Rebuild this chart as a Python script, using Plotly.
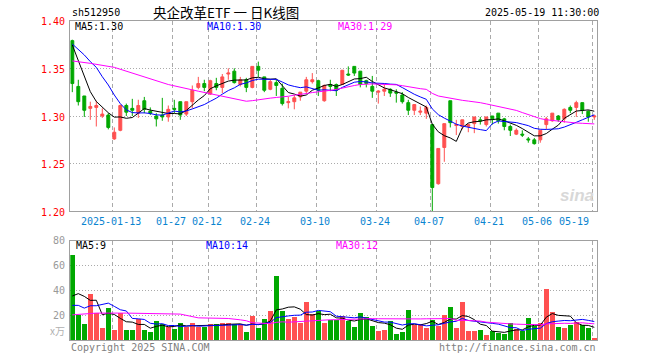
import plotly.graph_objects as go
import pandas as pd

# ---------------- data ----------------
dates = ["2025-01-02","2025-01-03","2025-01-06","2025-01-07","2025-01-08","2025-01-09","2025-01-10",
         "2025-01-13","2025-01-14","2025-01-15","2025-01-16","2025-01-17","2025-01-20","2025-01-21",
         "2025-01-22","2025-01-23","2025-01-24","2025-01-27","2025-02-05","2025-02-06","2025-02-07",
         "2025-02-10","2025-02-11","2025-02-12","2025-02-13","2025-02-14","2025-02-17","2025-02-18",
         "2025-02-19","2025-02-20","2025-02-21","2025-02-24","2025-02-25","2025-02-26","2025-02-27",
         "2025-02-28","2025-03-03","2025-03-04","2025-03-05","2025-03-06","2025-03-07","2025-03-10",
         "2025-03-11","2025-03-12","2025-03-13","2025-03-14","2025-03-17","2025-03-18","2025-03-19",
         "2025-03-20","2025-03-21","2025-03-24","2025-03-25","2025-03-26","2025-03-27","2025-03-28",
         "2025-03-31","2025-04-01","2025-04-02","2025-04-03","2025-04-07","2025-04-08","2025-04-09",
         "2025-04-10","2025-04-11","2025-04-14","2025-04-15","2025-04-16","2025-04-17","2025-04-18",
         "2025-04-21","2025-04-22","2025-04-23","2025-04-24","2025-04-25","2025-04-28","2025-04-29",
         "2025-04-30","2025-05-06","2025-05-07","2025-05-08","2025-05-09","2025-05-12","2025-05-13",
         "2025-05-14","2025-05-15","2025-05-16","2025-05-19"]

opens = [1.379,1.331,1.321,1.308,1.309,1.300,1.301,1.276,1.285,1.311,1.308,1.303,1.316,1.305,1.300,
         1.301,1.299,1.308,1.315,1.302,1.315,1.330,1.334,1.323,1.334,1.330,1.344,1.347,1.333,1.338,
         1.330,1.352,1.341,1.328,1.335,1.329,1.314,1.315,1.320,1.326,1.336,1.337,1.316,1.333,1.333,
         1.333,1.344,1.352,1.347,1.337,1.331,1.325,1.326,1.328,1.325,1.322,1.314,1.306,1.304,1.303,
         1.291,1.229,1.267,1.316,1.290,1.289,1.289,1.292,1.296,1.291,1.300,1.303,1.297,1.289,1.281,
         1.281,1.276,1.275,1.275,1.291,1.295,1.300,1.297,1.309,1.309,1.314,1.305,1.299]
highs = [1.380,1.338,1.321,1.315,1.316,1.308,1.303,1.288,1.312,1.313,1.318,1.317,1.320,1.309,1.303,
         1.319,1.311,1.317,1.315,1.315,1.332,1.341,1.338,1.338,1.340,1.344,1.350,1.350,1.341,1.340,
         1.352,1.357,1.341,1.338,1.338,1.334,1.320,1.322,1.325,1.341,1.345,1.338,1.333,1.338,1.334,
         1.348,1.352,1.352,1.347,1.338,1.342,1.327,1.333,1.329,1.328,1.325,1.317,1.312,1.310,1.311,
         1.291,1.266,1.292,1.316,1.296,1.296,1.292,1.299,1.299,1.299,1.300,1.303,1.298,1.291,1.287,
         1.285,1.278,1.277,1.285,1.299,1.303,1.301,1.308,1.311,1.316,1.314,1.306,1.301]
lows = [1.325,1.311,1.299,1.296,1.289,1.298,1.286,1.275,1.284,1.300,1.300,1.298,1.303,1.301,1.289,
        1.295,1.294,1.303,1.296,1.300,1.308,1.328,1.326,1.322,1.327,1.324,1.338,1.334,1.331,1.325,
        1.329,1.341,1.325,1.327,1.321,1.311,1.308,1.307,1.316,1.323,1.334,1.321,1.315,1.326,1.321,
        1.333,1.342,1.342,1.330,1.330,1.319,1.313,1.321,1.320,1.314,1.313,1.301,1.301,1.301,1.297,
        1.200,1.228,1.252,1.288,1.280,1.286,1.283,1.282,1.291,1.289,1.291,1.292,1.285,1.279,1.280,
        1.278,1.272,1.270,1.272,1.286,1.294,1.294,1.293,1.303,1.299,1.302,1.294,1.296]
closes = [1.334,1.315,1.306,1.310,1.311,1.302,1.288,1.283,1.311,1.304,1.306,1.311,1.307,1.303,1.297,
          1.299,1.307,1.307,1.301,1.315,1.327,1.334,1.330,1.337,1.330,1.341,1.345,1.335,1.338,1.330,
          1.352,1.348,1.327,1.336,1.332,1.313,1.315,1.319,1.325,1.338,1.338,1.327,1.332,1.331,1.327,
          1.348,1.343,1.345,1.333,1.334,1.326,1.326,1.328,1.324,1.324,1.315,1.306,1.312,1.305,1.309,
          1.225,1.266,1.292,1.293,1.291,1.296,1.291,1.299,1.295,1.299,1.297,1.295,1.289,1.285,1.285,
          1.280,1.275,1.271,1.285,1.297,1.303,1.296,1.307,1.306,1.314,1.306,1.299,1.300]
volumes = [68.0,20.2,13.2,37.4,21.8,9.9,26.1,8.3,21.8,8.3,
           8.3,16.9,8.3,6.7,15.6,12.9,10.8,9.1,13.7,11.0,
           13.7,11.0,11.0,13.0,13.0,13.5,13.5,13.0,13.0,7.0,
           19.5,10.0,17.0,23.5,51.9,23.1,17.2,18.3,14.2,30.4,
           21.0,23.1,14.2,15.9,15.9,19.6,15.1,10.8,22.0,18.8,
           11.6,7.8,8.6,15.6,5.1,7.0,24.5,12.4,12.9,10.2,
           16.4,11.6,20.4,26.9,9.9,30.4,7.8,7.8,8.6,4.6,
           7.8,5.6,5.1,14.2,8.9,7.8,18.0,11.3,14.2,41.4,
           22.3,10.8,9.9,12.4,14.8,12.4,10.2,2.2]

# moving-average values read from the chart where earlier history is not shown
ma5_lead_idx = [0, 1, 2, 3]
ma5_lead = [1.3744, 1.3587, 1.3412, 1.3255]
ma10_lead_idx = [0, 1, 2, 3, 4, 5, 6, 7, 8]
ma10_lead = [1.3755, 1.370, 1.364, 1.357, 1.351, 1.3412, 1.3325, 1.322, 1.313]
ma30_lead_idx = [0, 3, 7, 12, 16, 21, 26, 28]
ma30_lead = [1.3577, 1.3552, 1.351, 1.3412, 1.333, 1.326, 1.3196, 1.317]

vma5_lead_idx = [0, 1, 2, 3]
vma5_lead = [35.5, 37.4, 35.2, 32.0]
vma10_lead_idx = [0, 1, 2, 3, 4, 5, 6, 7, 8]
vma10_lead = [28.0, 28.0, 25.8, 27.7, 27.7, 28.5, 29.8, 27.2, 24.5]
vma30_lead_idx = [0, 4, 9, 15, 18, 21, 26, 28]
vma30_lead = [20.4, 21.8, 21.8, 21.0, 21.0, 18.0, 17.5, 16.4]

tick_dates = ["2025-01-13","2025-01-27","2025-02-12","2025-02-24","2025-03-10",
              "2025-03-24","2025-04-07","2025-04-21","2025-05-06","2025-05-19"]
tick_labels = ["2025-01-13","01-27","02-12","02-24","03-10","03-24","04-07","04-21","05-06","05-19"]

price_ticks = [1.20, 1.25, 1.30, 1.35, 1.40]
price_tick_labels = ["1.20", "1.25", "1.30", "1.35", "1.40"]
vol_ticks = [20, 40, 60, 80]
vol_tick_labels = ["20", "40", "60", "80"]

code = "sh512950"
title = "央企改革ETF 一 日K线图"
stamp = "2025-05-19 11:30:00"
ma_price_labels = ["MA5:1.30", "MA10:1.30", "MA30:1.29"]
ma_vol_labels = ["MA5:9", "MA10:14", "MA30:12"]

# ---------------- styling ----------------
W, H = 660, 360
RED = "#ff5050"
GREEN = "#00a800"
MA_COLORS = ["#000000", "#0000ff", "#ff00ff"]
GRID = "#aaaaaa"
BORDER = "#a0a0a0"
MONO = "DejaVu Sans Mono"
XL, XR = 70.3, 597.0          # plot left/right in px
P_TOP, P_BOT = 20.6, 211.4    # price panel
V_TOP, V_BOT = 240.5, 340.3   # volume panel
STEP = 6.0
C0 = 72.3                      # center of first candle, px

def px_x(px):
    return px / W

def px_y(py):
    return 1 - py / H

idx = list(range(len(dates)))
xr0 = (XL - C0) / STEP
xr1 = (XR - C0) / STEP

close_s = pd.Series(closes)
vol_s = pd.Series(volumes)

def ma_series(series, n, lead_idx, lead_vals):
    comp = series.rolling(n).mean()
    xs = list(lead_idx) + [i for i in idx if i >= n - 1]
    ys = list(lead_vals) + [comp[i] for i in idx if i >= n - 1]
    return xs, ys

fig = go.Figure()

fig.add_trace(go.Candlestick(
    x=idx, open=opens, high=highs, low=lows, close=closes,
    increasing=dict(line=dict(color=RED, width=1), fillcolor=RED),
    decreasing=dict(line=dict(color=GREEN, width=1), fillcolor=GREEN),
    whiskerwidth=0, xaxis="x", yaxis="y", hoverinfo="skip", showlegend=False))

for (n, li, lv), col in zip([(5, ma5_lead_idx, ma5_lead), (10, ma10_lead_idx, ma10_lead),
                             (30, ma30_lead_idx, ma30_lead)], MA_COLORS):
    xs, ys = ma_series(close_s, n, li, lv)
    fig.add_trace(go.Scatter(x=xs, y=ys, mode="lines", line=dict(color=col, width=1),
                             xaxis="x", yaxis="y", hoverinfo="skip", showlegend=False))

bar_colors = [RED if c >= o else GREEN for o, c in zip(opens, closes)]
fig.add_trace(go.Bar(x=idx, y=volumes, marker=dict(color=bar_colors, line=dict(width=0)),
                     width=0.8, xaxis="x2", yaxis="y2", hoverinfo="skip", showlegend=False))

for (n, li, lv), col in zip([(5, vma5_lead_idx, vma5_lead), (10, vma10_lead_idx, vma10_lead),
                             (30, vma30_lead_idx, vma30_lead)], MA_COLORS):
    xs, ys = ma_series(vol_s, n, li, lv)
    fig.add_trace(go.Scatter(x=xs, y=ys, mode="lines", line=dict(color=col, width=1),
                             xaxis="x2", yaxis="y2", hoverinfo="skip", showlegend=False))

tick_idx = [dates.index(d) for d in tick_dates]
grid_x = [i - 2.0 / STEP for i in tick_idx]

common_x = dict(range=[xr0, xr1], showticklabels=False, tickvals=grid_x, showgrid=True,
                gridcolor=GRID, griddash="4px,3px", gridwidth=1, showline=True, mirror=True,
                linecolor=BORDER, linewidth=1, zeroline=False, ticks="", fixedrange=True,
                domain=[px_x(XL), px_x(XR)])
common_y = dict(showticklabels=False, showgrid=True, gridcolor=GRID, griddash="1px,2px",
                gridwidth=1, showline=True, mirror=True, linecolor=BORDER, linewidth=1,
                zeroline=False, ticks="", fixedrange=True)

fig.update_layout(
    width=W, height=H, margin=dict(l=0, r=0, t=0, b=0),
    paper_bgcolor="white", plot_bgcolor="white", showlegend=False, bargap=0,
    xaxis=dict(anchor="y", rangeslider=dict(visible=False), **common_x),
    xaxis2=dict(anchor="y2", **common_x),
    yaxis=dict(anchor="x", domain=[px_y(P_BOT), px_y(P_TOP)], range=[1.20, 1.40],
               tickvals=[1.25, 1.30, 1.35], **common_y),
    yaxis2=dict(anchor="x2", domain=[px_y(V_BOT), px_y(V_TOP)], range=[0, 80],
                tickvals=[20, 40, 60], **common_y),
)

ann = []

def text(x, y, s, color="#000", size=10, anchor="left", family=MONO, xref="paper"):
    ann.append(dict(x=x, y=px_y(y), xref=xref, yref="paper", text=s, showarrow=False,
                    xanchor=anchor, yanchor="middle",
                    font=dict(family=family, size=size, color=color)))

# header
text(px_x(70), 12.5, code)
text(px_x(151), 11.5, title, size=13.5, family="Noto Sans CJK SC")
text(px_x(601), 12.5, stamp, anchor="right")

# MA labels
for s, col, xp in zip(ma_price_labels, MA_COLORS, [73, 205, 336]):
    text(px_x(xp), 27, s, color=col)
for s, col, xp in zip(ma_vol_labels, MA_COLORS, [74, 204, 334]):
    text(px_x(xp), 245.5, s, color=col)

# price axis labels
for v, s in zip(price_ticks, price_tick_labels):
    py = P_TOP + (1.40 - v) / 0.20 * (P_BOT - P_TOP) + 1.2
    text(px_x(66.5), py, s, color="#ff0000", anchor="right")

# volume axis labels
for v, s in zip(vol_ticks, vol_tick_labels):
    py = V_BOT - v / 80 * (V_BOT - V_TOP) + 0.5
    text(px_x(66.5), py, s, color="#999999", anchor="right")
text(px_x(66.5), 330, "x万", color="#b0b0b0", anchor="right", size=10,
     family="Noto Sans CJK SC")

# date labels
for k, (i, s) in enumerate(zip(tick_idx, tick_labels)):
    if k == len(tick_idx) - 1:
        text((591 - C0) / STEP, 221.7, s, color="#0a84d0", anchor="right", xref="x")
    else:
        text(i - 3.0 / STEP, 221.7, s, color="#0a84d0", anchor="center", xref="x")

# footer
text(px_x(69), 347, "Copyright 2025 SINA.COM", color="#808080")
text(px_x(597.5), 347, "http://finance.sina.com.cn", color="#808080", anchor="right")

# watermark
text(px_x(596), 196, "<b><i>sina</i></b>", color="#d8d8d8", size=17, anchor="right",
     family="Arial")

fig.update_layout(annotations=ann)
fig.write_html("out.html", config={"displayModeBar": False, "staticPlot": True},
               post_script="document.body.style.margin='0';document.body.style.padding='0';")
